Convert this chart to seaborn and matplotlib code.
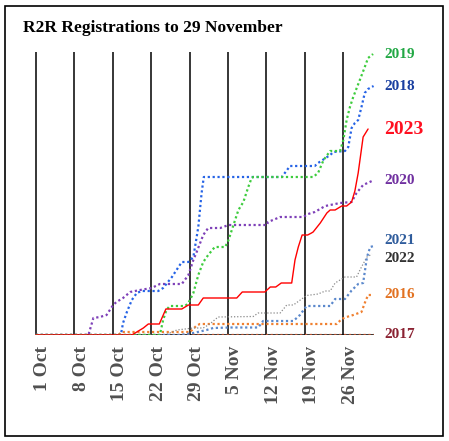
import matplotlib
matplotlib.use("Agg")
import matplotlib.pyplot as plt
import matplotlib.transforms as mtransforms
from matplotlib.patches import Rectangle
import seaborn as sns
import pandas as pd

sns.set_theme(style="white")
plt.rcParams['font.family'] = ['Liberation Serif', 'DejaVu Serif']

# ---- data (x = days after 1 October, y = registrations) ----
tick_days = [0, 7, 14, 21, 28, 35, 42, 49, 56]
tick_labels = ["1 Oct", "8 Oct", "15 Oct", "22 Oct", "29 Oct", "5 Nov", "12 Nov", "19 Nov", "26 Nov"]

days_2016 = [0, 15.0, 15.7, 28.1, 29.3, 29.9, 54.8, 55.7, 56.6, 57.8, 59.3, 59.9, 60.5, 61.5]
vals_2016 = [0, 0, 3, 3, 9.5, 11, 11, 16, 18, 20, 23, 32, 40, 40]

days_2017 = [0, 61.5]
vals_2017 = [0, 0]

days_2018 = [0, 15.5, 15.9, 16.6, 17.5, 18.4, 19.3, 22.3, 23.2, 24.8, 26.0, 26.6, 27.8, 28.7, 29.6,
             30.2, 30.6, 44.8, 46.3, 50.8, 51.4, 53.6, 54.2, 56.3, 56.9, 57.5, 58.1, 58.7, 59.3,
             59.9, 60.5, 61.5]
vals_2018 = [0, 0, 12, 23, 35, 42, 44, 44, 47, 58, 68, 73, 73, 78, 108,
             142, 158, 158, 169, 169, 172, 180, 183, 184, 188, 207, 212, 215, 228,
             242, 246, 249]

days_2019 = [0, 22.6, 23.2, 23.8, 24.4, 27.2, 27.8, 28.7, 29.6, 30.5, 31.4, 32.6, 34.5, 35.1, 35.7,
             36.9, 37.8, 38.7, 39.3, 39.6, 50.5, 51.4, 52.4, 53.6, 55.4, 56.0, 56.6, 57.2, 57.8,
             59.0, 59.9, 60.5, 61.2, 61.4]
vals_2019 = [0, 0, 15, 25, 29, 29, 32, 42, 60, 73, 80, 88, 88, 95, 105,
             125, 133, 148, 157, 158, 158, 162, 175, 184, 184, 195, 215, 228, 238,
             255, 268, 277, 280, 281]

days_2020 = [0, 9.6, 10.5, 11.7, 12.9, 14.1, 14.7, 15.9, 17.2, 19.0, 21.1, 22.6, 26.6, 27.8, 28.7,
             29.3, 30.5, 31.4, 33.6, 35.1, 42.1, 42.3, 44.5, 48.7, 49.6, 50.8, 52.7, 55.4, 57.5,
             58.4, 59.6, 61.2, 61.4]
vals_2020 = [0, 0, 17, 18, 20, 30, 33, 37, 43, 45, 47, 51, 51, 60, 75,
             83, 100, 107, 107, 110, 110, 113, 118, 118, 121, 123, 129, 132, 133,
             142, 150, 154, 155]

days_2021 = [0, 26.3, 28.7, 31.1, 32.3, 35.4, 40.5, 41.4, 46.9, 48.1, 49.3, 53.6, 54.5, 56.3, 57.5,
             58.7, 59.6, 60.3, 60.9, 61.5]
vals_2021 = [0, 0, 2, 5, 7, 7.5, 7.5, 14, 14, 20, 29, 29, 36, 36, 44.5,
             51, 52, 78, 88, 89]

days_2022 = [0, 23.5, 24.4, 25.7, 28.7, 30.5, 31.7, 33.2, 39.6, 40.5, 44.5, 45.7, 46.9, 49.3, 51.4,
             52.7, 53.6, 54.5, 56.3, 58.4, 59.3, 60.3, 61.2]
vals_2022 = [0, 0, 2, 5, 7, 7, 11, 18, 18.5, 22, 22, 30, 30, 39.5, 41,
             44, 44, 52, 58, 58, 68, 78, 81]

days_2023 = [0, 17.5, 19.6, 20.5, 22.5, 23.7, 26.6, 27.8, 29.6, 30.5, 36.6, 37.6, 41.7, 42.7, 43.7,
             44.7, 46.6, 47.2, 47.8, 48.5, 49.5, 50.2, 50.5, 51.8, 53.0, 53.6, 54.5, 55.7, 56.6,
             57.5, 58.1, 58.7, 59.6, 60.5]
vals_2023 = [0, 0, 7, 11, 11, 26, 26, 30, 30, 37, 37, 43, 43, 48, 48,
             52, 52, 75, 88, 100, 100, 102, 103, 112, 122, 125, 125, 129, 129,
             133, 144, 162, 198, 206]

series = {
    "2016": (days_2016, vals_2016),
    "2017": (days_2017, vals_2017),
    "2022": (days_2022, vals_2022),
    "2021": (days_2021, vals_2021),
    "2020": (days_2020, vals_2020),
    "2018": (days_2018, vals_2018),
    "2019": (days_2019, vals_2019),
    "2023": (days_2023, vals_2023),
}

# ---- styles ----
line_color = {"2016": "#F08030", "2017": "#B4502E", "2018": "#2563E6", "2019": "#3DCC3D",
              "2020": "#7E40B8", "2021": "#5B88CC", "2022": "#8A8A8A", "2023": "#FF0000"}
label_color = {"2016": "#E27222", "2017": "#8B2232", "2018": "#1A3FA0", "2019": "#22A845",
               "2020": "#7030A0", "2021": "#2F5C9C", "2022": "#333333", "2023": "#FF1020"}
line_style = {k: (0, (1, 1.2)) for k in series}
line_style["2023"] = "-"
line_style["2022"] = (0, (1, 1.5))
line_width = {k: 1.6 for k in series}
line_width["2023"] = 1.0
line_width["2022"] = 0.9
label_size = {k: 11 for k in series}
label_size["2023"] = 14
label_dy = {"2021": 5, "2022": -5, "2017": 1}

fig = plt.figure(figsize=(4.49, 4.41), dpi=100)
fig.patch.set_facecolor("white")
ax = fig.add_axes([19.2 / 449, 106 / 441, 362.6 / 449, 290 / 441])
ax.set_xlim(-3, 63)
ax.set_ylim(0, 290)
for s in ax.spines.values():
    s.set_visible(False)
ax.set_facecolor("white")

# weekly vertical lines and baseline
ax.vlines(tick_days, 0, 283, colors="black", linewidth=1.1, zorder=1)
ax.hlines(0, 0, 61.5, colors="black", linewidth=1.1, zorder=1)

for name, (d, v) in series.items():
    df = pd.DataFrame({"day": d, "value": v})
    sns.lineplot(data=df, x="day", y="value", ax=ax, estimator=None, sort=False,
                 color=line_color[name], linestyle=line_style[name],
                 linewidth=line_width[name], zorder=3)
    ax.text(63.4, v[-1] + label_dy.get(name, 0), name, color=label_color[name],
            fontsize=label_size[name], fontweight="bold", ha="left", va="center",
            clip_on=False)

ax.set_xlabel("")
ax.set_ylabel("")
ax.set_yticks([])
ax.set_xticks(tick_days)
ax.set_xticklabels(tick_labels, rotation=90, fontsize=14, fontweight="bold", color="#505050",
                   va="top", ha="center")
ax.tick_params(axis="x", length=0, pad=8)
offset = mtransforms.ScaledTranslation(7 / 100, 0, fig.dpi_scale_trans)
for lab in ax.get_xticklabels():
    lab.set_transform(lab.get_transform() + offset)

fig.text(23 / 449, 1 - 28 / 441, "R2R Registrations to 29 November", fontsize=12.5,
         fontweight="bold", color="black", ha="left", va="center")

fig.patches.append(Rectangle((5 / 449, 5 / 441), 438 / 449, 430 / 441, transform=fig.transFigure,
                             fill=False, edgecolor="black", linewidth=1.2))

fig.savefig("out.png", dpi=100, facecolor="white")
